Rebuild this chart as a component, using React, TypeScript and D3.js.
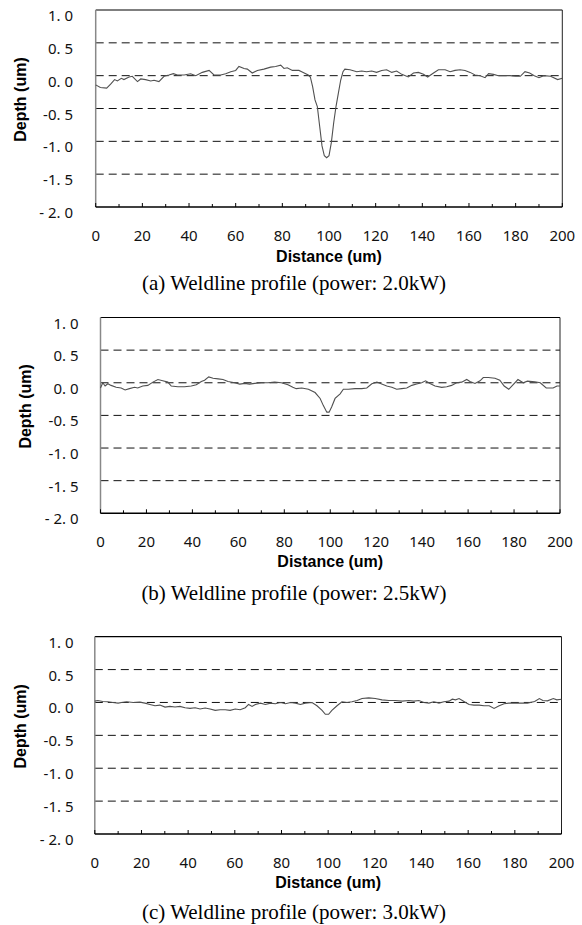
import React from 'react';
import * as d3 from 'd3';

// distance (um) / depth (um)
const distA = [0, 2, 4.7, 6.4, 8.1, 9.3, 11, 12.1, 14.3, 15.7, 17.9, 19.3, 21.4, 23.6, 25, 27.1, 29.3, 31.4, 33.3, 35, 37.9, 40.7, 42.9, 45.7, 48.6, 50.7, 53.6, 55.7, 57.9, 60, 61.4, 63.6, 65, 67.1, 69.3, 72.1, 75, 77.1, 79.3, 80.7, 82.1, 84.3, 87.1, 88.3, 91.1, 92, 93, 94, 95, 96, 97, 98, 99, 100, 101, 102, 103, 104, 105, 106, 106.8, 109, 111.9, 114, 116.1, 118.3, 120.4, 122.6, 124.7, 126.9, 129, 131.2, 134, 136.2, 138.3, 140.5, 142.3, 144.8, 146.9, 149.8, 151.9, 154, 156.2, 158.3, 160.5, 162.6, 164.8, 166.9, 168.4, 170.5, 172.6, 175.5, 177.6, 180, 182, 184, 186, 188, 190, 192, 195, 198, 200];
const depthA = [-0.14, -0.18, -0.19, -0.13, -0.06, -0.08, -0.04, -0.06, -0.02, -0.01, -0.09, -0.05, -0.06, -0.08, -0.07, -0.09, -0.01, 0.01, 0.03, 0.01, 0.01, 0.03, 0, 0.05, 0.08, 0.01, 0.01, 0.03, 0.06, 0.08, 0.14, 0.11, 0.1, 0.04, 0.08, 0.1, 0.13, 0.14, 0.16, 0.11, 0.12, 0.08, 0.08, 0.06, 0.01, -0.02, -0.17, -0.37, -0.47, -0.77, -1.07, -1.22, -1.25, -1.22, -1.02, -0.72, -0.47, -0.27, -0.07, 0.06, 0.1, 0.09, 0.06, 0.07, 0.06, 0.07, 0.05, 0.08, 0.09, 0.05, 0.07, 0.02, -0.02, 0.04, 0.05, 0.02, -0.02, 0.04, 0.09, 0.09, 0.06, 0.08, 0.09, 0.08, 0.05, 0.01, 0, -0.03, 0.03, 0.02, 0, 0, 0, -0.01, -0.01, 0.06, 0.04, 0, -0.03, 0, -0.01, -0.06, -0.04];

const distB = [0, 1, 2, 3.2, 4.6, 6.8, 9, 10.7, 12.6, 14.8, 16.2, 18.4, 20.6, 22.8, 25, 27.1, 29.3, 30.8, 33.7, 36.6, 39.5, 41.7, 43.9, 45.3, 47.1, 49, 51.2, 53.3, 55.5, 58.4, 60.6, 62.8, 64.9, 67.1, 70, 72.9, 75.8, 78.7, 81.6, 83.7, 85.2, 87.6, 90.5, 93.4, 95.6, 97, 98.5, 99.5, 100.6, 102.1, 104.3, 105.7, 107.9, 110.8, 113.7, 115.9, 118.1, 120.3, 122.4, 124.6, 126.8, 128.9, 131.1, 133.3, 135.5, 137.6, 139.8, 141.5, 143.4, 145.6, 148.5, 150.7, 152.8, 155, 157.2, 159.4, 160.8, 163, 165.2, 166.6, 168.8, 171.7, 173.8, 175.7, 177.7, 181.7, 184, 185.8, 189, 191.4, 194, 197, 198.7, 200];
const depthB = [-0.08, 0, -0.05, -0.015, -0.04, -0.07, -0.08, -0.11, -0.09, -0.07, -0.08, -0.05, -0.04, 0.01, 0.05, 0.03, 0.01, -0.05, -0.06, -0.06, -0.05, -0.03, 0.02, 0.04, 0.09, 0.07, 0.06, 0.05, 0.02, 0, -0.02, -0.01, -0.02, -0.01, 0, 0, 0.01, 0, -0.03, -0.07, -0.09, -0.08, -0.1, -0.15, -0.24, -0.35, -0.45, -0.45, -0.37, -0.24, -0.17, -0.1, -0.1, -0.09, -0.09, -0.08, -0.015, 0.01, -0.02, -0.05, -0.07, -0.1, -0.09, -0.08, -0.04, -0.02, 0, 0.03, -0.01, -0.05, -0.07, -0.06, -0.04, 0, 0.01, 0.05, 0.02, -0.01, 0.03, 0.08, 0.08, 0.07, 0.04, -0.05, -0.1, 0.05, 0, 0.025, 0.015, 0, -0.08, -0.08, -0.05, -0.05];

const distC = [0, 1.3, 3.4, 5.6, 7.7, 10, 11.5, 13.6, 16.5, 19.3, 21.5, 23.6, 25.8, 27.9, 30.1, 32.2, 34.4, 36.5, 38.7, 40.8, 43, 45.1, 47.3, 49.4, 51.6, 53.7, 55.9, 58, 60.2, 62.3, 64.5, 65.9, 67.4, 68.8, 71, 73.1, 75.3, 77.4, 79.6, 81.7, 83.9, 86, 88.1, 90.2, 93.1, 95.2, 97.4, 98.8, 100.2, 101.6, 103.8, 105.9, 108.1, 110.2, 112.4, 114.5, 117.4, 120.2, 123.1, 126, 128.8, 131.7, 134.6, 136.7, 138.9, 141, 143.2, 145.3, 147.5, 149.6, 151.8, 153.2, 154.6, 156.1, 157.5, 158.9, 160.4, 162.5, 164.7, 166.8, 169, 171.1, 173.3, 175.4, 177.4, 180.6, 185.4, 188.5, 190.5, 192, 194, 196.5, 198, 200];
const depthC = [0.02, 0.03, 0.015, 0.01, 0, -0.01, 0, 0.01, 0, 0.005, -0.01, -0.03, -0.05, -0.04, -0.07, -0.06, -0.07, -0.06, -0.08, -0.09, -0.08, -0.1, -0.085, -0.1, -0.12, -0.11, -0.11, -0.12, -0.1, -0.11, -0.08, -0.03, -0.06, -0.03, -0.01, -0.03, -0.01, -0.02, 0, -0.02, 0, -0.01, -0.03, -0.01, 0, -0.05, -0.12, -0.18, -0.18, -0.12, -0.05, 0.01, 0, 0.01, 0.03, 0.06, 0.07, 0.06, 0.04, 0.03, 0.03, 0.02, 0.03, 0.02, 0.03, 0, -0.01, 0.01, -0.01, 0.01, 0.02, 0.05, 0.04, 0.06, 0.03, 0, -0.03, -0.04, -0.04, -0.05, -0.05, -0.09, -0.05, -0.02, -0.01, -0.01, -0.01, 0.015, 0.06, 0.03, 0.025, 0.06, 0.04, 0.05];

const yTicks = [1, 0.5, 0, -0.5, -1, -1.5, -2];
const yTickLabels = ['1. 0', '0. 5', '0. 0', '-0. 5', '-1. 0', '-1. 5', '- 2. 0'];
const xTicks = [0, 20, 40, 60, 80, 100, 120, 140, 160, 180, 200];
const captions = [
  '(a) Weldline profile (power: 2.0kW)',
  '(b) Weldline profile (power: 2.5kW)',
  '(c) Weldline profile (power: 3.0kW)',
];

const panels = [
  { dist: distA, depth: depthA, left: 95.7, right: 562.3, top: 10, bottom: 207, labRight: 73, depthX: 20.5, tickDy: 28, distDy: 49, capDy: 76 },
  { dist: distB, depth: depthB, left: 100.5, right: 560, top: 317.5, bottom: 513.3, labRight: 78.5, depthX: 25, tickDy: 27.4, distDy: 48.4, capDy: 79.7 },
  { dist: distC, depth: depthC, left: 94.8, right: 561.5, top: 636.7, bottom: 834, labRight: 73.5, depthX: 20.5, tickDy: 27.7, distDy: 48.7, capDy: 77.7 },
];

const tickFont = '"Noto Sans", "DejaVu Sans", sans-serif';
const boldFont = '"Liberation Sans", Arial, sans-serif';
const serifFont = '"Liberation Serif", "Times New Roman", serif';

function Panel({ p, caption }: { p: any; caption: string }) {
  const x = d3.scaleLinear().domain([0, 200]).range([p.left, p.right]);
  const y = d3.scaleLinear().domain([-2, 1]).range([p.bottom, p.top]);
  const line = d3.line<number>().x((d, i) => x(p.dist[i])).y((d) => y(d));
  const minor = d3.range(0, 201, 10);
  const midY = (p.top + p.bottom) / 2;

  return (
    <g>
      {/* dashed grid */}
      {yTicks.filter((t) => t > -2 && t < 1).map((t) => (
        <line key={t} x1={p.left} x2={p.right} y1={y(t)} y2={y(t)}
          stroke="#111" strokeWidth={1} strokeDasharray="8,5" />
      ))}
      {/* frame */}
      <line x1={p.left} x2={p.right} y1={y(1)} y2={y(1)} stroke="#000" strokeWidth={1.2} />
      <line x1={p.right} x2={p.right} y1={y(1)} y2={y(-2)} stroke="#222" strokeWidth={1} />
      <line x1={p.left} x2={p.left} y1={y(1)} y2={y(-2)} stroke="#888" strokeWidth={1.5} />
      <line x1={p.left} x2={p.right} y1={y(-2)} y2={y(-2)} stroke="#000" strokeWidth={1.5} />
      {minor.map((t) => (
        <line key={t} x1={x(t)} x2={x(t)} y1={y(-2)} y2={y(-2) - (t % 20 === 0 ? 4 : 3)}
          stroke="#000" strokeWidth={1} />
      ))}
      {/* profile */}
      <path d={line(p.depth) || ''} fill="none" stroke="#505050" strokeWidth={1.1} />
      {/* y tick labels */}
      {yTicks.map((t, i) => (
        <text key={t} x={p.labRight} y={y(t) + 5} textAnchor="end" dominantBaseline="central"
          fontFamily={tickFont} fontSize={15} fill="#111">{yTickLabels[i]}</text>
      ))}
      {/* x tick labels */}
      {xTicks.map((t) => (
        <text key={t} x={x(t)} y={p.bottom + p.tickDy} textAnchor="middle" dominantBaseline="central"
          fontFamily={tickFont} fontSize={15} fill="#111">{t}</text>
      ))}
      <text x={(p.left + p.right) / 2} y={p.bottom + p.distDy} textAnchor="middle" dominantBaseline="central"
        fontFamily={boldFont} fontWeight="bold" fontSize={16} fill="#000">Distance (um)</text>
      <text transform={`translate(${p.depthX},${midY - 9}) rotate(-90)`} textAnchor="middle" dominantBaseline="central"
        fontFamily={boldFont} fontWeight="bold" fontSize={16} fill="#000">Depth (um)</text>
      <text x={294} y={p.bottom + p.capDy} textAnchor="middle" dominantBaseline="central"
        fontFamily={serifFont} fontSize={21} fill="#000">{caption}</text>
    </g>
  );
}

export default function App() {
  return (
    <div style={{ position: 'absolute', left: 0, top: 0, background: '#fff' }}>
      <svg width={582} height={925}>
        <rect width={582} height={925} fill="#fff" />
        {panels.map((p, i) => (
          <Panel key={i} p={p} caption={captions[i]} />
        ))}
      </svg>
    </div>
  );
}
